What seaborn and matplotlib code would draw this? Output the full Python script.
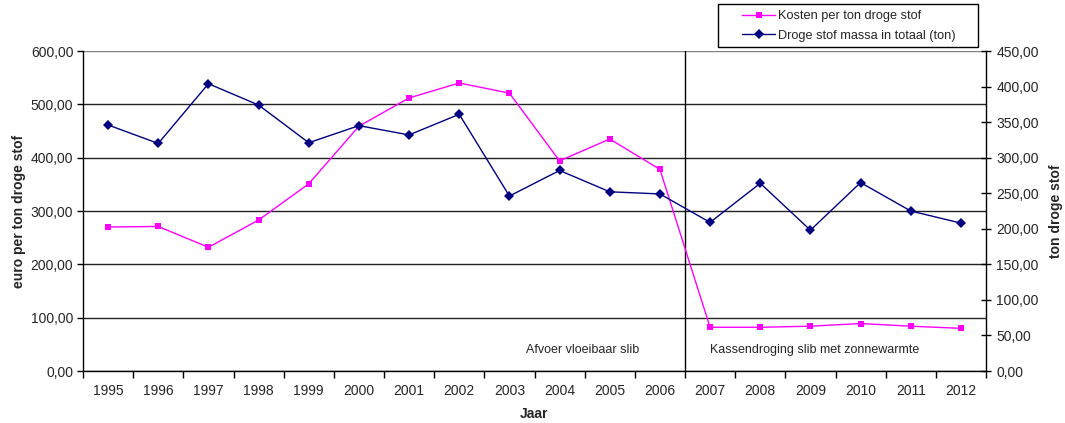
import matplotlib
matplotlib.use("Agg")
import matplotlib.pyplot as plt
from matplotlib.patches import Rectangle
from matplotlib.ticker import FixedLocator, FuncFormatter, NullFormatter
import seaborn as sns
import pandas as pd

years = list(range(1995, 2013))
kosten = [270, 271, 232, 283, 351, 459, 512, 540, 521, 394, 435, 378,
          82, 82, 84, 89, 84, 80]
massa = [346, 320, 404, 374, 321, 345, 332, 361, 246, 282, 252, 249,
         209, 264, 198, 265, 225, 208]

label_kosten = "Kosten per ton droge stof"
label_massa = "Droge stof massa in totaal (ton)"
phase_labels = ["Afvoer vloeibaar slib", "Kassendroging slib met zonnewarmte"]

df = pd.DataFrame({"jaar": years, "kosten": kosten, "massa": massa})

sns.set_theme(style="white")
plt.rcParams["font.family"] = ["Liberation Sans", "DejaVu Sans"]
plt.rcParams["font.size"] = 10

W, H = 1065, 423
fig = plt.figure(figsize=(W / 100, H / 100), dpi=100)
ax = fig.add_axes([83 / W, 1 - 371 / H, (986 - 83) / W, (371 - 51) / H])
ax2 = ax.twinx()

pink = "#FF00FF"
navy = "#000080"

sns.lineplot(data=df, x="jaar", y="kosten", ax=ax, color=pink, marker="s",
             markersize=4.4, markeredgewidth=0, linewidth=1, label=label_kosten,
             legend=False)
sns.lineplot(data=df, x="jaar", y="massa", ax=ax2, color=navy, marker="D",
             markersize=4.6, markeredgewidth=0, linewidth=1, label=label_massa,
             legend=False)

def comma_fmt(v, pos):
    return f"{v:.2f}".replace(".", ",")

# x axis: one category per year, tick marks on the boundaries
ax.set_xlim(years[0] - 0.5, years[-1] + 0.5)
ax.xaxis.set_major_locator(FixedLocator([y - 0.5 for y in years] + [years[-1] + 0.5]))
ax.xaxis.set_major_formatter(NullFormatter())
ax.xaxis.set_minor_locator(FixedLocator(years))
ax.xaxis.set_minor_formatter(FuncFormatter(lambda v, p: f"{int(round(v))}"))
ax.tick_params(axis="x", which="major", direction="out", length=5, width=1,
               color="black", bottom=True)
ax.tick_params(axis="x", which="minor", length=0, pad=9, labelsize=10)

# left axis
ax.set_ylim(0, 600)
ax.set_yticks(range(0, 601, 100))
ax.yaxis.set_major_formatter(FuncFormatter(comma_fmt))
ax.tick_params(axis="y", direction="out", length=4, width=1, color="black",
               left=True, labelsize=10, pad=3)
ax.yaxis.grid(True, color="#222222", linewidth=1)
ax.xaxis.grid(False)
ax.set_axisbelow(True)
ax.get_ygridlines()[-1].set_color("#808080")

# right axis
ax2.set_ylim(0, 450)
ax2.set_yticks(range(0, 451, 50))
ax2.yaxis.set_major_formatter(FuncFormatter(comma_fmt))
ax2.tick_params(axis="y", direction="inout", length=7, width=1, color="black",
                right=True, labelsize=10, pad=4)
ax2.grid(False)

for a in (ax, ax2):
    for side in ("left", "bottom", "right"):
        a.spines[side].set_color("black")
        a.spines[side].set_linewidth(1)
    a.spines["top"].set_visible(False)
ax2.spines["left"].set_visible(False)
ax2.spines["bottom"].set_visible(False)
ax.spines["right"].set_visible(False)

ax.set_xlabel("Jaar", fontweight="bold", fontsize=10, labelpad=7)
ax.set_ylabel("euro per ton droge stof", fontweight="bold", fontsize=10, labelpad=3)
ax2.set_ylabel("ton droge stof", fontweight="bold", fontsize=10, labelpad=7)

# phase separator and labels
ax.axvline(2006.5, color="black", linewidth=1, zorder=1)
ax.text(2004.45, 40, phase_labels[0], ha="center", va="center", fontsize=9)
ax.text(2007.0, 40, phase_labels[1], ha="left", va="center", fontsize=9)

# legend above the plot on the right, inside a plain box
fig.patches.append(Rectangle((718 / W, 1 - 47 / H), (978 - 718) / W, (47 - 4) / H,
                             transform=fig.transFigure, facecolor="white",
                             edgecolor="black", linewidth=1, zorder=0))
handles = ax.get_lines()[:1] + ax2.get_lines()[:1]
leg = fig.legend(handles, [label_kosten, label_massa],
                 loc="upper left", bbox_to_anchor=(742 / W, 1 - 10 / H),
                 frameon=False, fontsize=9.2, handlelength=2.6, borderpad=0,
                 labelspacing=0.6, handletextpad=0.25, borderaxespad=0)

fig.savefig("out.png", dpi=100)
